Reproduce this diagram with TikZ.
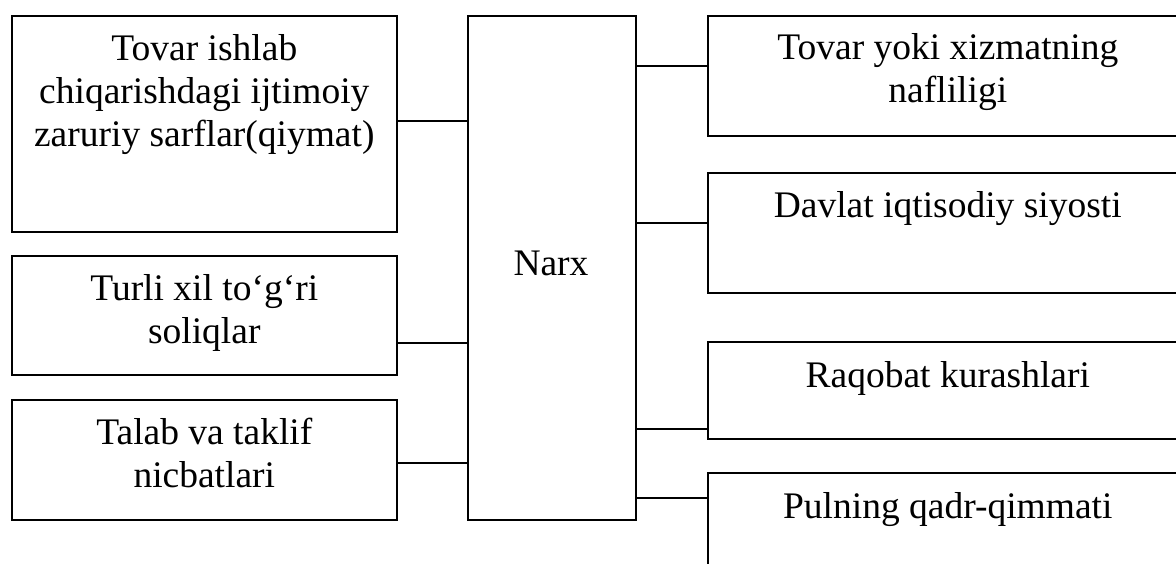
\documentclass[tikz,border=0pt]{standalone}
\usepackage{fontspec}
\setmainfont{Liberation Serif}
\usetikzlibrary{calc}
\begin{document}
\begin{tikzpicture}[x=1pt,y=-1pt,
  box/.style={draw, line width=1.6pt, inner sep=0pt},
  lbl/.style={inner sep=0pt, align=center, anchor=base, font=\fontsize{37.5}{43}\selectfont},
  link/.style={line width=1.6pt}]
\useasboundingbox (0,0) rectangle (1176,563);
\clip (0,0) rectangle (1176,563);

% left column
\node[box, minimum width=385pt, minimum height=216pt, anchor=north west] (l1) at (11,15) {};
\node[box, minimum width=385pt, minimum height=119pt, anchor=north west] (l2) at (11,255) {};
\node[box, minimum width=385pt, minimum height=120pt, anchor=north west] (l3) at (11,399) {};

% centre
\node[box, minimum width=168pt, minimum height=504pt, anchor=north west] (narx) at (467,15) {};

% right column (runs past the right and bottom edges)
\node[box, minimum width=480pt, minimum height=120pt, anchor=north west] (r1) at (707,15) {};
\node[box, minimum width=480pt, minimum height=120pt, anchor=north west] (r2) at (707,172) {};
\node[box, minimum width=480pt, minimum height=97pt, anchor=north west] (r3) at (707,341) {};
\node[box, minimum width=480pt, minimum height=120pt, anchor=north west] (r4) at (707,472) {};

% labels (base anchor = baseline of the last line)
\node[lbl] (t1) at ($(l1.north)+(0,131)$) {Tovar ishlab\\chiqarishdagi ijtimoiy\\zaruriy sarflar(qiymat)};
\node[lbl] (t2) at ($(l2.north)+(0,88)$) {Turli xil to‘g‘ri\\soliqlar};
\node[lbl] (t3) at ($(l3.north)+(0,88)$) {Talab va taklif\\nicbatlari};
\node[lbl] (tn) at (551,275) {Narx};
\node[lbl] (t4) at ($(r1.north)+(0,87)$) {Tovar yoki xizmatning\\nafliligi};
\node[lbl] (t5) at ($(r2.north)+(0,45)$) {Davlat iqtisodiy siyosti};
\node[lbl] (t6) at ($(r3.north)+(0,46)$) {Raqobat kurashlari};
\node[lbl] (t7) at ($(r4.north)+(0,46)$) {Pulning qadr-qimmati};

% connector heights
\coordinate (ya) at (0,121);
\coordinate (yb) at (0,343);
\coordinate (yc) at (0,463);
\coordinate (yd) at (0,66);
\coordinate (ye) at (0,223);
\coordinate (yf) at (0,429);
\coordinate (yg) at (0,498);

\draw[link] (l1.east |- ya) -- (narx.west |- ya);
\draw[link] (l2.east |- yb) -- (narx.west |- yb);
\draw[link] (l3.east |- yc) -- (narx.west |- yc);
\draw[link] (narx.east |- yd) -- (r1.west |- yd);
\draw[link] (narx.east |- ye) -- (r2.west |- ye);
\draw[link] (narx.east |- yf) -- (r3.west |- yf);
\draw[link] (narx.east |- yg) -- (r4.west |- yg);
\end{tikzpicture}
\end{document}
